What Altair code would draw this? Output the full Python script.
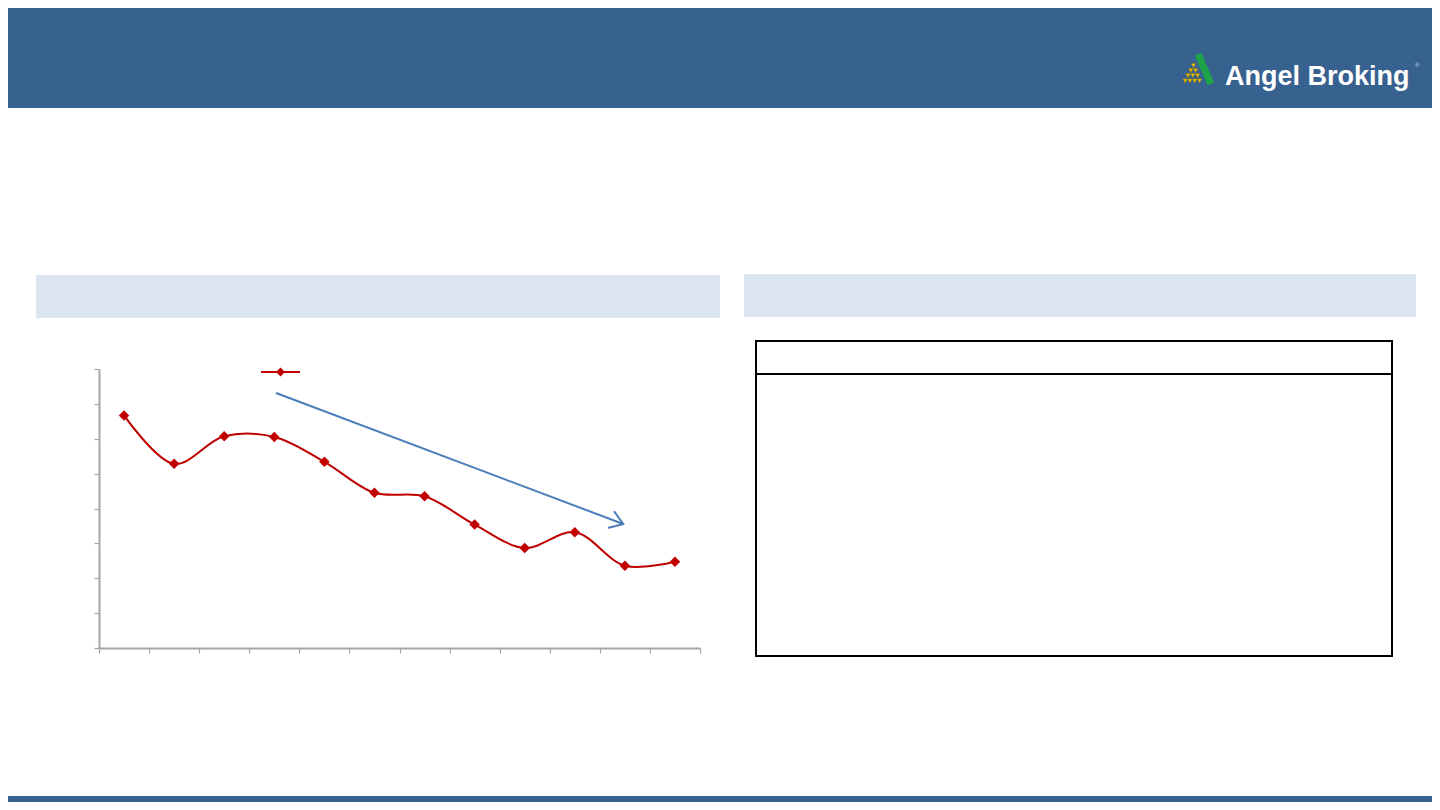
import altair as alt
import pandas as pd

# ---- data (y axis unlabeled; 8 equal intervals) ----
periods = list(range(1, 13))
values = [6.67, 5.28, 6.07, 6.05, 5.34, 4.45, 4.35, 3.54, 2.87, 3.32, 2.36, 2.47]
y_ticks = [0, 1, 2, 3, 4, 5, 6, 7, 8]
x_ticks = [0.5 + i for i in range(13)]
logo_text = "Angel Broking"

df = pd.DataFrame({"period": periods, "value": values})
one = pd.DataFrame({"k": [0]})

# plot-area geometry (page coordinates)
PLOT_W, PLOT_H = 601, 279
X0, Y0 = 99, 369
PAGE_W, PAGE_H = 1424, 794  # svg size (page minus 8px margins)


def px(x):
    return x - X0


def py(y):
    return y - Y0


def rect(x1, y1, x2, y2, fill, stroke=None, sw=0):
    kw = dict(fill=fill)
    if stroke:
        kw.update(stroke=stroke, strokeWidth=sw)
    return alt.Chart(one).mark_rect(**kw).encode(
        x=alt.value(px(x1)), x2=alt.value(px(x2)),
        y=alt.value(py(y1)), y2=alt.value(py(y2)))


def rule(x1, y1, x2, y2, color, sw, cap="round"):
    return alt.Chart(one).mark_rule(color=color, strokeWidth=sw, strokeCap=cap).encode(
        x=alt.value(px(x1)), x2=alt.value(px(x2)),
        y=alt.value(py(y1)), y2=alt.value(py(y2)))


def text(t, x, y, size, color, font="Liberation Sans", weight="normal",
         align="left", baseline="alphabetic"):
    return alt.Chart(one).mark_text(
        text=t, font=font, fontSize=size, fontWeight=weight, color=color,
        align=align, baseline=baseline).encode(
        x=alt.value(px(x)), y=alt.value(py(y)))


def marker(x, y, shape, size, color, stroke=None):
    kw = dict(shape=shape, filled=True, color=color, size=size, opacity=1)
    if stroke:
        kw.update(stroke=stroke, strokeWidth=0.6)
    return alt.Chart(one).mark_point(**kw).encode(x=alt.value(px(x)), y=alt.value(py(y)))


BLUE = "#37618F"
LIGHT = "#DCE6F1"
RED = "#C00000"
ARROW = "#4A7EBB"
AXIS = "#A6A6A6"

layers = []
# header and footer bars
layers.append(rect(0, 0, 1440, 108, BLUE))
layers.append(rect(0, 796, 1440, 810, BLUE))
# logo
layers.append(rule(1198, 54, 1211, 84, "#1FA24A", 7, cap="butt"))
tri_rows = [(1193.5, 65.5, 1), (1193.2, 70.5, 2), (1192.8, 75.5, 3), (1192.3, 80.8, 4)]
for cx, cy, n in tri_rows:
    for i in range(n):
        layers.append(marker(cx + (i - (n - 1) / 2) * 4.8, cy, "triangle-down", 18,
                             "#F2C200", stroke="#B08A00"))
layers.append(text(logo_text, 1225, 85, 27, "white", weight="bold"))
layers.append(text("®", 1415, 67, 6, "#C8D4E4"))
# section title boxes
layers.append(rect(36, 275, 720, 318, LIGHT))
layers.append(rect(744, 274, 1416, 317, LIGHT))
# table frame
layers.append(rect(756, 341, 1392, 656, "white", stroke="black", sw=2))
layers.append(rule(756, 374, 1392, 374, "black", 2, cap="butt"))

# main series
x_enc = alt.X("period:Q", scale=alt.Scale(domain=[0.5, 12.5], nice=False, zero=False),
              axis=alt.Axis(values=x_ticks, tickCount=40, labels=False, title=None,
                            grid=False, domainColor=AXIS, domainWidth=2, tickColor=AXIS,
                            tickWidth=1.2, tickSize=5))
y_enc = alt.Y("value:Q", scale=alt.Scale(domain=[0, 8], nice=False),
              axis=alt.Axis(values=y_ticks, tickCount=40, labels=False, title=None,
                            grid=False, domainColor=AXIS, domainWidth=2, tickColor=AXIS,
                            tickWidth=1.2, tickSize=5))

line = alt.Chart(df).mark_line(color=RED, strokeWidth=2, interpolate="catmull-rom").encode(
    x=x_enc, y=y_enc)
pts = alt.Chart(df).mark_point(shape="diamond", filled=True, color=RED, size=110,
                               opacity=1).encode(x=x_enc, y=y_enc)
layers += [line, pts]

# legend (line + diamond, no label)
layers.append(rule(261, 372, 300, 372, RED, 2, cap="butt"))
layers.append(marker(280.5, 372, "diamond", 80, RED))

# trend arrow
layers.append(rule(276.7, 393.3, 623.3, 524, ARROW, 2))
layers.append(rule(623.3, 524, 608.8, 527.7, ARROW, 2))
layers.append(rule(623.3, 524, 614.5, 511.8, ARROW, 2))

chart = alt.layer(*layers).properties(
    width=PLOT_W, height=PLOT_H,
    background="white",
    autosize=alt.AutoSizeParams(type="none"),
    padding={"left": X0 - 8, "top": Y0 - 8,
             "right": PAGE_W - (X0 - 8) - PLOT_W,
             "bottom": PAGE_H - (Y0 - 8) - PLOT_H},
).configure_view(strokeWidth=0, stroke="transparent")

chart.save("out.html", embed_options={"renderer": "svg", "actions": False})
